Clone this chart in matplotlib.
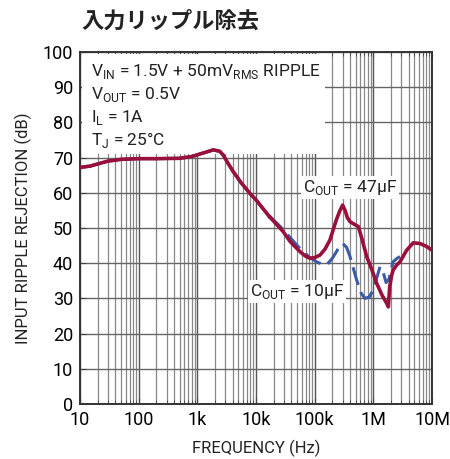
import matplotlib
matplotlib.use('Agg')
import matplotlib.pyplot as plt
from matplotlib.patches import Rectangle
from matplotlib.ticker import FixedLocator, NullFormatter

plt.rcParams['font.family'] = ['Roboto', 'DejaVu Sans']
plt.rcParams['mathtext.fontset'] = 'custom'
plt.rcParams['mathtext.rm'] = 'Roboto'

# shared low-frequency part (both output caps)
freq_low = [10, 15, 20, 30, 50, 100, 200, 500, 800, 1000, 1500, 1870, 2400,
            2770, 3300, 4100, 5500, 7900, 10e3, 15.2e3, 17e3]
rej_low = [67.2, 67.6, 68.2, 69.0, 69.5, 69.7, 69.7, 69.8, 70.3, 70.8, 71.7,
           72.2, 71.8, 70.7, 68.5, 66.0, 63.0, 59.8, 58.0, 54.2, 53.2]

# COUT = 47uF
freq_47 = [17e3, 29e3, 38e3, 56e3, 70e3, 83e3, 100e3, 123e3, 150e3, 182e3,
           234e3, 270e3, 300e3, 330e3, 360e3, 400e3, 480e3, 556e3, 650e3,
           770e3, 950e3, 1.14e6, 1.4e6, 1.69e6, 1.8e6, 1.9e6, 2.05e6, 2.17e6,
           2.5e6, 2.85e6, 3.7e6, 4.8e6, 6.2e6, 8e6, 10e6]
rej_47 = [53.2, 49.0, 46.2, 43.3, 42.0, 41.4, 41.6, 42.3, 44.0, 46.6,
          52.3, 55.0, 56.5, 55.0, 53.0, 51.8, 51.0, 50.4, 46.5,
          41.9, 38.0, 34.3, 31.0, 28.6, 27.6, 33.3, 36.5, 38.0,
          39.5, 40.4, 43.7, 45.8, 45.6, 44.8, 43.7]

# COUT = 10uF
freq_10 = [17e3, 29e3, 38e3, 56e3, 80e3, 107e3, 130e3, 160e3, 200e3, 250e3,
           300e3, 350e3, 400e3, 520e3, 620e3, 720e3, 850e3, 1.0e6, 1.15e6,
           1.3e6, 1.45e6, 1.65e6, 1.85e6, 2.17e6, 2.5e6, 2.85e6]
rej_10 = [53.4, 49.6, 47.3, 44.2, 41.8, 40.4, 39.8, 39.5, 41.4, 44.0,
          45.6, 44.5, 41.9, 35.2, 31.5, 30.0, 30.4, 32.4, 36.0,
          39.0, 37.8, 34.5, 35.5, 40.4, 41.3, 41.9]

xtick_pos = [10, 100, 1e3, 1e4, 1e5, 1e6, 1e7]
xtick_lab = ['10', '100', '1k', '10k', '100k', '1M', '10M']
xminor_pos = [m * 10 ** e for e in range(1, 7) for m in range(2, 10)]

fig = plt.figure(figsize=(4.5, 4.59), dpi=100)
ax = fig.add_axes([0.1778, 0.1198, 0.7822, 0.7669])

ax.set_xscale('log')
ax.set_xlim(10, 1e7)
ax.set_ylim(0, 100)
ax.xaxis.set_major_locator(FixedLocator(xtick_pos))
ax.set_xticklabels(xtick_lab)
ax.xaxis.set_minor_locator(FixedLocator(xminor_pos))
ax.xaxis.set_minor_formatter(NullFormatter())
ax.set_yticks(range(0, 101, 10))

ax.grid(True, which='major', axis='x', color='#555555', lw=1.0)
ax.grid(True, which='minor', axis='x', color='#888888', lw=0.9)
ax.grid(True, which='major', axis='y', color='#666666', lw=1.0)
ax.set_axisbelow(True)
ax.tick_params(which='both', direction='in', top=True, right=False,
               labelsize=13, color='#444444')
ax.tick_params(which='major', length=4, pad=5)
ax.tick_params(which='minor', length=3)
for s in ax.spines.values():
    s.set_color('#333333')
    s.set_linewidth(1.4)

# white panel behind the condition text
ax.add_patch(Rectangle((0.005, 0.71), 0.69, 0.285, transform=ax.transAxes,
                       facecolor='white', edgecolor='none', zorder=1.5))

ax.plot(freq_low, rej_low, color='#3b5ba5', lw=2.2, zorder=3)
ax.plot(freq_10, rej_10, color='#3b5ba5', lw=2.2, dashes=(6, 2.5), zorder=3)
ax.plot(freq_low, rej_low, color='#98103b', lw=2.6, zorder=4)
ax.plot(freq_47, rej_47, color='#98103b', lw=2.6, zorder=4)

txt = dict(fontsize=12.5, color='#222222', zorder=5)
ax.text(0.03, 0.945, r'V$_{\mathrm{IN}}$ = 1.5V + 50mV$_{\mathrm{RMS}}$ RIPPLE',
        transform=ax.transAxes, va='center', **txt)
ax.text(0.03, 0.88, r'V$_{\mathrm{OUT}}$ = 0.5V', transform=ax.transAxes,
        va='center', **txt)
ax.text(0.03, 0.815, r'I$_{\mathrm{L}}$ = 1A', transform=ax.transAxes,
        va='center', **txt)
ax.text(0.03, 0.75, r'T$_{\mathrm{J}}$ = 25°C', transform=ax.transAxes,
        va='center', **txt)

box = dict(facecolor='white', edgecolor='none', pad=1.5)
ax.text(6.3e4, 61.5, r'C$_{\mathrm{OUT}}$ = 47µF', va='center', bbox=box, **txt)
ax.text(8.0e3, 32.0, r'C$_{\mathrm{OUT}}$ = 10µF', va='center', bbox=box, **txt)

ax.set_xlabel('FREQUENCY (Hz)', fontsize=12, color='#222222', labelpad=8)
ax.set_ylabel('INPUT RIPPLE REJECTION (dB)', fontsize=12, color='#222222',
              labelpad=8)

fig.text(0.18, 0.955, '入力リップル除去', fontsize=16, fontweight='bold',
         family=['Noto Sans CJK JP', 'DejaVu Sans'], color='#222222',
         va='center')

fig.savefig('out.png', dpi=100)
plt.close(fig)
